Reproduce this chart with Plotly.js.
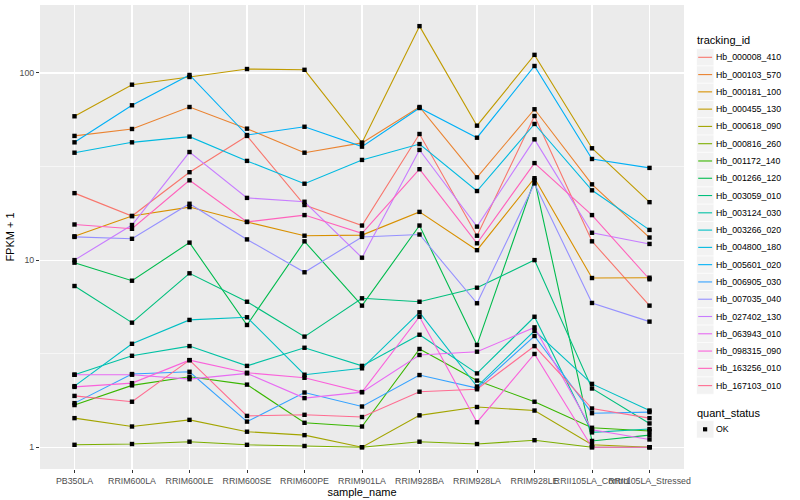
<!DOCTYPE html>
<html><head><meta charset="utf-8">
<script src="https://cdn.plot.ly/plotly-3.0.1.min.js"></script>
<style>html,body{margin:0;padding:0;background:#fff}#chart{width:800px;height:500px}</style>
</head><body><div id="chart"></div>
<script>
// x categories
const samples = ["PB350LA","RRIM600LA","RRIM600LE","RRIM600SE","RRIM600PE","RRIM901LA",
  "RRIM928BA","RRIM928LA","RRIM928LE","RRII105LA_Control","RRII105LA_Stressed"];

// series values (FPKM + 1), one array per tracking_id
const hb000008_410 = [22.8, 17.2, 29.5, 46.1, 19.7, 15.3, 47.2, 13.5, 58.9, 12.6, 5.71];
const hb000103_570 = [46.1, 50.2, 65.8, 50.4, 37.5, 42.3, 65.8, 27.7, 64.0, 25.4, 13.2];
const hb000181_100 = [13.4, 17.2, 19.2, 16.0, 13.5, 13.6, 18.1, 11.3, 27.4, 8.02, 8.05];
const hb000455_130 = [58.7, 86.6, 95.2, 105, 104, 42.4, 178, 52.3, 125, 39.6, 20.4];
const hb000618_090 = [1.43, 1.29, 1.40, 1.21, 1.16, 1.00, 1.48, 1.64, 1.57, 1.03, 1.00];
const hb000816_260 = [1.03, 1.04, 1.07, 1.03, 1.015, 1.00, 1.07, 1.04, 1.09, 1.00, 1.00];
const hb001172_140 = [1.68, 2.14, 2.38, 2.16, 1.35, 1.29, 3.35, 2.27, 1.75, 1.27, 1.22];
const hb001266_120 = [9.69, 7.76, 12.4, 4.50, 12.6, 5.71, 15.3, 3.52, 26.8, 1.08, 1.16];
const hb003059_010 = [7.27, 4.63, 8.50, 5.99, 3.90, 6.25, 5.99, 7.12, 10.0, 2.06, 1.34];
const hb003124_030 = [2.44, 3.08, 3.47, 2.72, 3.40, 2.72, 3.99, 2.48, 4.98, 1.20, 1.25];
const hb003266_020 = [2.12, 3.57, 4.79, 4.95, 2.44, 2.64, 5.26, 2.11, 4.19, 2.18, 1.57];
const hb004800_180 = [37.5, 42.6, 45.7, 33.9, 25.6, 34.3, 41.7, 23.4, 53.4, 23.6, 14.5];
const hb005601_020 = [42.6, 67.2, 97.6, 46.6, 51.6, 40.4, 65.0, 45.1, 109, 34.7, 31.1];
const hb006905_030 = [1.72, 2.46, 2.53, 1.37, 1.96, 1.65, 2.43, 2.07, 3.93, 1.52, 1.54];
const hb007035_040 = [13.3, 13.0, 20.0, 12.9, 8.61, 13.3, 13.7, 5.88, 25.7, 5.90, 4.69];
const hb027402_130 = [10.0, 15.4, 37.8, 21.5, 20.5, 10.3, 38.8, 15.1, 44.2, 14.0, 12.2];
const hb063943_010 = [2.44, 2.44, 2.31, 2.48, 1.83, 1.97, 3.11, 3.24, 4.37, 1.24, 1.10];
const hb098315_090 = [2.10, 2.20, 2.92, 2.50, 2.35, 1.97, 4.98, 1.36, 3.15, 1.00, 1.00];
const hb163256_010 = [15.5, 14.7, 26.7, 16.0, 17.4, 13.9, 30.6, 12.3, 33.0, 17.4, 7.90];
const hb167103_010 = [1.88, 1.75, 2.92, 1.47, 1.49, 1.45, 1.98, 2.04, 3.47, 1.61, 1.43];

const trackingIds = ["Hb_000008_410","Hb_000103_570","Hb_000181_100","Hb_000455_130","Hb_000618_090",
  "Hb_000816_260","Hb_001172_140","Hb_001266_120","Hb_003059_010","Hb_003124_030","Hb_003266_020",
  "Hb_004800_180","Hb_005601_020","Hb_006905_030","Hb_007035_040","Hb_027402_130","Hb_063943_010",
  "Hb_098315_090","Hb_163256_010","Hb_167103_010"];
const seriesValues = [hb000008_410, hb000103_570, hb000181_100, hb000455_130, hb000618_090,
  hb000816_260, hb001172_140, hb001266_120, hb003059_010, hb003124_030, hb003266_020,
  hb004800_180, hb005601_020, hb006905_030, hb007035_040, hb027402_130, hb063943_010,
  hb098315_090, hb163256_010, hb167103_010];
const colors = ["#F8766D","#EA8331","#D89000","#C09B00","#A3A500","#7CAE00","#39B600","#00BB4E",
  "#00BF7D","#00C1A3","#00BFC4","#00BAE0","#00B0F6","#35A2FF","#9590FF","#C77CFF","#E76BF3",
  "#FA62DB","#FF62BC","#FF6C91"];
const yTickVals = [1, 10, 100];
const yTickText = ["1", "10", "100"];
const quantStatus = ["OK"];

const FONT = "Liberation Sans, Arial, Helvetica, sans-serif";

const traces = [];
trackingIds.forEach((id, i) => {
  traces.push({
    type: "scatter", mode: "lines", name: id, x: samples, y: seriesValues[i],
    line: {color: colors[i], width: 1.1}, showlegend: false, hoverinfo: "x+y+name"
  });
});
const px = [], py = [];
seriesValues.forEach(v => v.forEach((val, j) => { px.push(samples[j]); py.push(val); }));
traces.push({
  type: "scatter", mode: "markers", name: quantStatus[0], x: px, y: py,
  marker: {color: "#000000", symbol: "square", size: 4.4, line: {width: 0}},
  showlegend: false, hoverinfo: "skip"
});

// plot-area geometry (pixels) for the hand-built ggplot-like legend
const L = 40, R = 684, T = 5, B = 469;
const fx = p => (p - L) / (R - L);
const fy = p => (B - p) / (B - T);

const shapes = [], annotations = [];
annotations.push({xref: "paper", yref: "paper", x: fx(694.5), y: fy(40), xanchor: "left", yanchor: "middle",
  text: "tracking_id", showarrow: false, font: {family: FONT, size: 11, color: "#000"}});
trackingIds.forEach((id, i) => {
  const cy = 57.3 + i * 17.28;
  shapes.push({type: "rect", xref: "paper", yref: "paper", x0: fx(696.5), x1: fx(713.8),
    y0: fy(cy + 8.64), y1: fy(cy - 8.64), fillcolor: "#F2F2F2", line: {color: "#FFFFFF", width: 0.6}, layer: "above"});
  shapes.push({type: "line", xref: "paper", yref: "paper", x0: fx(698.2), x1: fx(712.1),
    y0: fy(cy), y1: fy(cy), line: {color: colors[i], width: 1.1}, layer: "above"});
  annotations.push({xref: "paper", yref: "paper", x: fx(714.5), y: fy(cy), xanchor: "left", yanchor: "middle",
    text: id, showarrow: false, font: {family: FONT, size: 8.8, color: "#000"}});
});
annotations.push({xref: "paper", yref: "paper", x: fx(694.5), y: fy(412.7), xanchor: "left", yanchor: "middle",
  text: "quant_status", showarrow: false, font: {family: FONT, size: 11, color: "#000"}});
shapes.push({type: "rect", xref: "paper", yref: "paper", x0: fx(696.5), x1: fx(713.8),
  y0: fy(429.3 + 8.64), y1: fy(429.3 - 8.64), fillcolor: "#F2F2F2", line: {color: "#FFFFFF", width: 0.6}, layer: "above"});
shapes.push({type: "rect", xref: "paper", yref: "paper", x0: fx(703), x1: fx(707.2),
  y0: fy(431.4), y1: fy(427.2), fillcolor: "#000", line: {width: 0}, layer: "above"});
annotations.push({xref: "paper", yref: "paper", x: fx(714.5), y: fy(429.3), xanchor: "left", yanchor: "middle",
  text: quantStatus[0], showarrow: false, font: {family: FONT, size: 8.8, color: "#000"}});

const layout = {
  width: 800, height: 500,
  margin: {l: L, r: 800 - R, t: T, b: 500 - B, pad: 0},
  paper_bgcolor: "#FFFFFF", plot_bgcolor: "#EBEBEB",
  font: {family: FONT, size: 9, color: "#4D4D4D"},
  showlegend: false,
  xaxis: {
    type: "category", range: [-0.6, 10.6], fixedrange: true,
    showgrid: true, gridcolor: "#FFFFFF", gridwidth: 1.1, zeroline: false, showline: false,
    ticks: "outside", ticklen: 3, tickwidth: 1, tickcolor: "#333333", tickangle: 0,
    tickfont: {family: FONT, size: 8.8, color: "#4D4D4D"},
    title: {text: "sample_name", font: {family: FONT, size: 11, color: "#000"}, standoff: 1},
    automargin: false
  },
  yaxis: {
    type: "log", range: [-0.1165, 2.3634], fixedrange: true,
    tickmode: "array", tickvals: yTickVals, ticktext: yTickText,
    showgrid: true, gridcolor: "#FFFFFF", gridwidth: 1.1, zeroline: false, showline: false,
    ticks: "outside", ticklen: 3, tickwidth: 1, tickcolor: "#333333",
    tickfont: {family: FONT, size: 8.8, color: "#4D4D4D"},
    minor: {tickmode: "array", tickvals: [Math.sqrt(10), Math.sqrt(1000)], showgrid: true,
      gridcolor: "#FFFFFF", gridwidth: 0.55, ticks: ""},
    title: {text: "FPKM + 1", font: {family: FONT, size: 11, color: "#000"}, standoff: 2},
    automargin: false
  },
  shapes: shapes, annotations: annotations
};

Plotly.newPlot("chart", traces, layout, {displayModeBar: false, staticPlot: true});
</script>
</body></html>
